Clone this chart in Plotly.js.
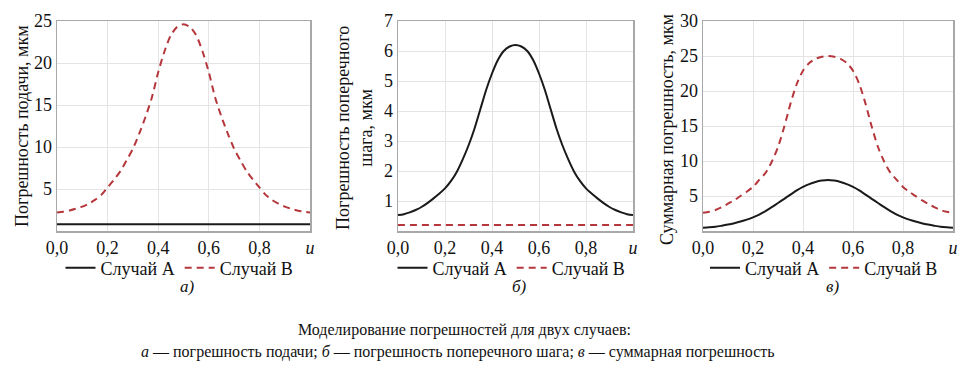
<!DOCTYPE html>
<html>
<head>
<meta charset="utf-8">
<script src="https://cdn.plot.ly/plotly-3.0.1.min.js"></script>
<style>
html,body{margin:0;padding:0;background:#fff;}
#chart{width:976px;height:376px;}
</style>
</head>
<body>
<div id="chart"></div>
<script>
// ---- data ----
const u = [0,0.025,0.05,0.075,0.1,0.125,0.15,0.175,0.2,0.225,0.25,0.275,0.3,0.325,0.35,0.375,0.4,0.425,0.45,0.475,0.5,
           0.525,0.55,0.575,0.6,0.625,0.65,0.675,0.7,0.725,0.75,0.775,0.8,0.825,0.85,0.875,0.9,0.925,0.95,0.975,1];

// panel а — feed error, мкм
const feedA = [0.8,0.8,0.8,0.8,0.8,0.8,0.8,0.8,0.8,0.8,0.8,0.8,0.8,0.8,0.8,0.8,0.8,0.8,0.8,0.8,0.8,
               0.8,0.8,0.8,0.8,0.8,0.8,0.8,0.8,0.8,0.8,0.8,0.8,0.8,0.8,0.8,0.8,0.8,0.8,0.8,0.8];
const feedB = [2.2,2.3,2.45,2.65,2.9,3.25,3.7,4.3,5.2,6.1,7.1,8.4,9.8,11.6,13.6,15.9,18.9,21.4,23.3,24.3,24.6,
               24.3,23.3,21.4,18.9,15.9,13.6,11.6,9.8,8.4,7.1,6.1,5.2,4.3,3.7,3.25,2.9,2.65,2.45,2.3,2.2];

// panel б — cross-step error, мкм
const stepA = [0.53,0.56,0.62,0.7,0.8,0.93,1.08,1.24,1.42,1.66,1.97,2.38,2.85,3.4,4.05,4.7,5.25,5.7,6.0,6.15,6.2,
               6.15,6.0,5.7,5.25,4.7,4.05,3.4,2.85,2.38,1.97,1.66,1.42,1.24,1.08,0.93,0.8,0.7,0.62,0.56,0.53];
const stepB = [0.2,0.2,0.2,0.2,0.2,0.2,0.2,0.2,0.2,0.2,0.2,0.2,0.2,0.2,0.2,0.2,0.2,0.2,0.2,0.2,0.2,
               0.2,0.2,0.2,0.2,0.2,0.2,0.2,0.2,0.2,0.2,0.2,0.2,0.2,0.2,0.2,0.2,0.2,0.2,0.2,0.2];

// panel в — total error, мкм
const totalA = [0.47,0.52,0.6,0.75,0.92,1.12,1.35,1.62,1.95,2.35,2.85,3.4,4.0,4.6,5.2,5.8,6.3,6.7,7.0,7.2,7.3,
                7.2,7.0,6.7,6.3,5.8,5.2,4.6,4.0,3.4,2.85,2.35,1.95,1.62,1.35,1.12,0.92,0.75,0.6,0.52,0.47];
const totalB = [2.6,2.75,3.0,3.4,3.9,4.4,5.0,5.6,6.3,7.3,8.3,9.9,12.0,14.9,18.2,21.0,22.9,24.0,24.6,24.9,25.0,
                24.9,24.6,24.0,22.9,21.0,18.2,14.9,12.0,9.9,8.3,7.3,6.3,5.6,5.0,4.4,3.9,3.4,3.0,2.75,2.6];

const xTickVals = [0,0.2,0.4,0.6,0.8,1];
const xTickText = ["0,0","0,2","0,4","0,6","0,8","<i>u</i>"];
const yTicksA = [5,10,15,20,25];
const yTicksB = [1,2,3,4,5,6,7];
const yTicksC = [5,10,15,20,25,30];
const seriesNames = ["Случай А","Случай В"];
const yTitles = ["Погрешность подачи, мкм","Погрешность поперечного<br>шага, мкм","Суммарная погрешность, мкм"];
const panelLabels = ["а)","б)","в)"];
const captionLine1 = "Моделирование погрешностей для двух случаев:";
const captionLine2 = "<i>а</i> — погрешность подачи; <i>б</i> — погрешность поперечного шага; <i>в</i> — суммарная погрешность";

// ---- layout helpers ----
const W = 976, H = 376;
const px = x => x / W;
const py = y => 1 - y / H;
const SERIF = "Liberation Serif";
const RED = "#b5373c";
const BLACK = "#1a1a1a";

const panels = [
  {xa:'x',  ya:'y',  left:57,  right:310, ticks:yTicksA, range:[0,25], A:feedA,  B:feedB,  leg:'legend'},
  {xa:'x2', ya:'y2', left:398, right:633, ticks:yTicksB, range:[0,7],  A:stepA,  B:stepB,  leg:'legend2'},
  {xa:'x3', ya:'y3', left:703, right:953, ticks:yTicksC, range:[0,30], A:totalA, B:totalB, leg:'legend3'}
];
const TOPY = 21, BOTY = 231;

const traces = [];
const layout = {
  width: W, height: H,
  margin: {l:0, r:0, t:0, b:0},
  paper_bgcolor: '#fff', plot_bgcolor: '#fff',
  font: {family: SERIF, size: 18, color: '#111'},
  showlegend: true,
  annotations: []
};

panels.forEach((p, i) => {
  traces.push({x:u, y:p.A, type:'scatter', mode:'lines', name:seriesNames[0],
    line:{color:BLACK, width:2, shape:'spline', smoothing:0.8}, xaxis:p.xa, yaxis:p.ya, legend:p.leg});
  traces.push({x:u, y:p.B, type:'scatter', mode:'lines', name:seriesNames[1],
    line:{color:RED, width:2, dash:'7px,5px', shape:'spline', smoothing:0.8}, xaxis:p.xa, yaxis:p.ya, legend:p.leg});

  const sfx = i === 0 ? '' : String(i+1);
  layout['xaxis'+sfx] = {
    domain:[px(p.left), px(p.right)], range:[0,1], anchor:'y'+sfx,
    tickvals:xTickVals, ticktext:xTickText, showgrid:true, gridcolor:'#e4e4e4', gridwidth:1,
    zeroline:false, showline:true, mirror:true, linecolor:'#a8a8a8', linewidth:1.5,
    ticks:'', tickfont:{family:SERIF, size:18, color:'#111'}
  };
  layout['yaxis'+sfx] = {
    domain:[py(BOTY), py(TOPY)], range:p.range, anchor:'x'+sfx,
    tickvals:p.ticks, showgrid:true, gridcolor:'#e4e4e4', gridwidth:1,
    zeroline:false, showline:true, mirror:true, linecolor:'#a8a8a8', linewidth:1.5,
    ticks:'', tickfont:{family:SERIF, size:18, color:'#111'}
  };
  const legKey = i === 0 ? 'legend' : 'legend'+(i+1);
  layout[legKey] = {
    orientation:'h', x:px((p.left+p.right)/2 - 4), y:py(268), xanchor:'center', yanchor:'middle',
    font:{family:SERIF, size:18, color:'#111'}, bgcolor:'rgba(0,0,0,0)'
  };
  layout.annotations.push({
    text:'<i>'+panelLabels[i]+'</i>', xref:'paper', yref:'paper',
    x:px((p.left+p.right)/2 + 4), y:py(286), xanchor:'center', yanchor:'middle',
    showarrow:false, font:{family:SERIF, size:17, color:'#111'}
  });
});

// y-axis titles
const titlePos = [[22,126],[354,128],[667,130]];
titlePos.forEach((t, i) => {
  layout.annotations.push({
    text:yTitles[i], xref:'paper', yref:'paper', x:px(t[0]), y:py(t[1]),
    xanchor:'center', yanchor:'middle', textangle:-90, showarrow:false,
    font:{family:SERIF, size:18, color:'#111'}
  });
});

// caption
layout.annotations.push({
  text:captionLine1, xref:'paper', yref:'paper', x:px(464), y:py(330),
  xanchor:'center', yanchor:'middle', showarrow:false, font:{family:SERIF, size:16, color:'#111'}
});
layout.annotations.push({
  text:captionLine2, xref:'paper', yref:'paper', x:px(458), y:py(352),
  xanchor:'center', yanchor:'middle', showarrow:false, font:{family:SERIF, size:16, color:'#111'}
});

Plotly.newPlot('chart', traces, layout, {staticPlot:true}).then(gd => {
  gd.querySelectorAll('text').forEach(t => {
    t.style.setProperty('font-family', "'Liberation Serif', 'Times New Roman', serif", 'important');
  });
});
</script>
</body>
</html>
